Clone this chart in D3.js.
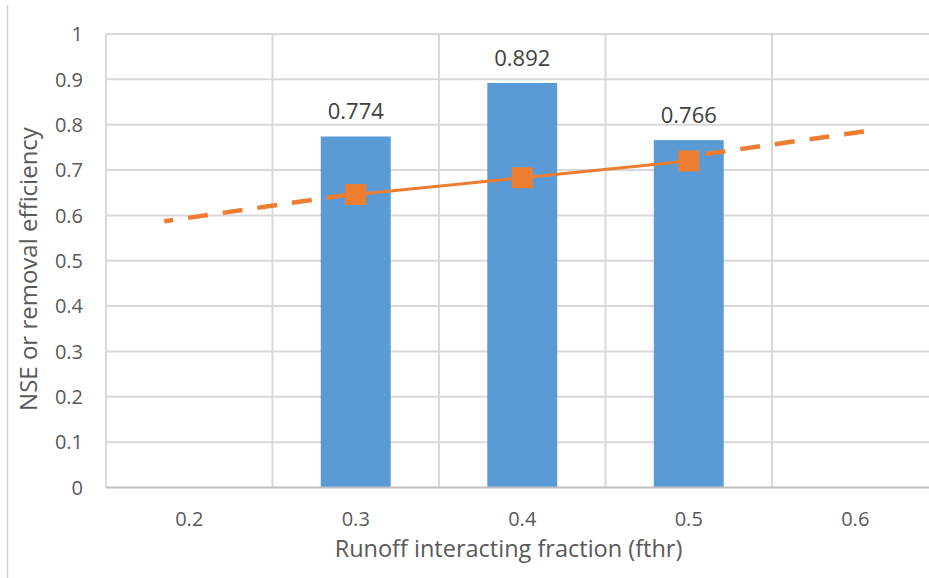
<!DOCTYPE html>
<html>
<head>
<meta charset="utf-8">
<script src="https://cdn.jsdelivr.net/npm/d3@7"></script>
<style>
  html, body { margin: 0; padding: 0; background: #fff; }
  svg { display: block; font-family: "Open Sans", sans-serif; }
</style>
</head>
<body>
<svg width="929" height="578"></svg>
<script>
//chart data
const categories = ["0.2", "0.3", "0.4", "0.5", "0.6"];
const bar_cats = ["0.3", "0.4", "0.5"];
const bar_values = [0.774, 0.892, 0.766];
const line_values = [0.646, 0.683, 0.72];
//dashed extensions: [fthr, value]
const dash_left = [[0.185, 0.587], [0.3, 0.648]];
const dash_right = [[0.5, 0.730], [0.607, 0.786]];
const y_ticks = [0, 0.1, 0.2, 0.3, 0.4, 0.5, 0.6, 0.7, 0.8, 0.9, 1];

const margin = { top: 34, left: 106 };
const plot_w = 832.5;
const plot_h = 453.5;

const svg = d3.select("svg");

//outer chart border (only left edge visible)
svg.append("line")
    .attr("x1", 7.5).attr("x2", 7.5)
    .attr("y1", 5).attr("y2", 578)
    .attr("stroke", "#d0d0d0")
    .attr("stroke-width", 1.5);

const g = svg.append("g")
    .attr("transform", `translate(${margin.left}, ${margin.top})`);

//scales
const x = d3.scaleBand()
    .domain(categories)
    .range([0, plot_w])
    .padding(0);
const xc = d3.scaleLinear()
    .domain([0.2, 0.6])
    .range([x("0.2") + x.bandwidth() / 2, x("0.6") + x.bandwidth() / 2]);
const y = d3.scaleLinear()
    .domain([0, 1])
    .range([plot_h, 0]);

//horizontal gridlines
g.append("g")
    .selectAll("line")
    .data(y_ticks.slice(1))
    .enter()
    .append("line")
    .attr("x1", 0).attr("x2", plot_w)
    .attr("y1", d => y(d)).attr("y2", d => y(d))
    .attr("stroke", "#d9d9d9")
    .attr("stroke-width", 2);

//vertical gridlines between categories
const bounds = categories.map(c => x(c)).concat([plot_w]);
g.append("g")
    .selectAll("line")
    .data(bounds)
    .enter()
    .append("line")
    .attr("x1", d => d).attr("x2", d => d)
    .attr("y1", 0).attr("y2", plot_h)
    .attr("stroke", "#d9d9d9")
    .attr("stroke-width", 2);

//y tick labels
g.append("g")
    .selectAll("text")
    .data(y_ticks)
    .enter()
    .append("text")
    .attr("x", -23)
    .attr("y", d => y(d))
    .attr("dy", "0.36em")
    .attr("text-anchor", "end")
    .attr("font-size", "20px")
    .attr("fill", "#595959")
    .text(d => d3.format("~g")(d));

//x tick labels
g.append("g")
    .selectAll("text")
    .data(categories)
    .enter()
    .append("text")
    .attr("x", d => x(d) + x.bandwidth() / 2)
    .attr("y", plot_h + 38)
    .attr("text-anchor", "middle")
    .attr("font-size", "20px")
    .attr("fill", "#595959")
    .text(d => d);

//bars
const bar_w = x.bandwidth() * 0.42;
g.append("g")
    .selectAll("rect")
    .data(bar_cats.map((c, i) => ({ c, v: bar_values[i] })))
    .enter()
    .append("rect")
    .attr("x", d => x(d.c) + (x.bandwidth() - bar_w) / 2)
    .attr("y", d => y(d.v))
    .attr("width", bar_w)
    .attr("height", d => plot_h - y(d.v))
    .attr("fill", "#5b9bd5");

//bar value labels
g.append("g")
    .selectAll("text")
    .data(bar_cats.map((c, i) => ({ c, v: bar_values[i] })))
    .enter()
    .append("text")
    .attr("x", d => x(d.c) + x.bandwidth() / 2)
    .attr("y", d => y(d.v) - 17)
    .attr("text-anchor", "middle")
    .attr("font-size", "22px")
    .attr("fill", "#404040")
    .text(d => d3.format(".3f")(d.v));

//x axis line
g.append("line")
    .attr("x1", 0).attr("x2", plot_w)
    .attr("y1", plot_h).attr("y2", plot_h)
    .attr("stroke", "#bfbfbf")
    .attr("stroke-width", 2);

//dashed extensions
const dash_line = d3.line()
    .x(d => xc(d[0]))
    .y(d => y(d[1]));
g.append("path")
    .datum(dash_left)
    .attr("d", dash_line)
    .attr("fill", "none")
    .attr("stroke", "#ed7d31")
    .attr("stroke-width", 4.5)
    .attr("stroke-dasharray", "20,15")
    .attr("stroke-dashoffset", 11);
g.append("path")
    .datum(dash_right)
    .attr("d", dash_line)
    .attr("fill", "none")
    .attr("stroke", "#ed7d31")
    .attr("stroke-width", 4.5)
    .attr("stroke-dasharray", "20,15")
    .attr("stroke-dashoffset", 18);

//solid line with square markers
const pts = bar_cats.map((c, i) => ({ c, v: line_values[i] }));
g.append("path")
    .datum(pts)
    .attr("d", d3.line()
        .x(d => x(d.c) + x.bandwidth() / 2)
        .y(d => y(d.v)))
    .attr("fill", "none")
    .attr("stroke", "#ed7d31")
    .attr("stroke-width", 3);
g.append("g")
    .selectAll("rect")
    .data(pts)
    .enter()
    .append("rect")
    .attr("x", d => x(d.c) + x.bandwidth() / 2 - 10.5)
    .attr("y", d => y(d.v) - 10.5)
    .attr("width", 21)
    .attr("height", 21)
    .attr("fill", "#ed7d31");

//axis titles
g.append("text")
    .attr("x", 402.5)
    .attr("y", plot_h + 69)
    .attr("text-anchor", "middle")
    .attr("font-size", "23.5px")
    .attr("fill", "#595959")
    .text("Runoff interacting fraction (fthr)");
svg.append("text")
    .attr("transform", "rotate(-90)")
    .attr("x", -269)
    .attr("y", 37)
    .attr("text-anchor", "middle")
    .attr("font-size", "24px")
    .attr("fill", "#595959")
    .text("NSE or removal efficiency");
</script>
</body>
</html>
